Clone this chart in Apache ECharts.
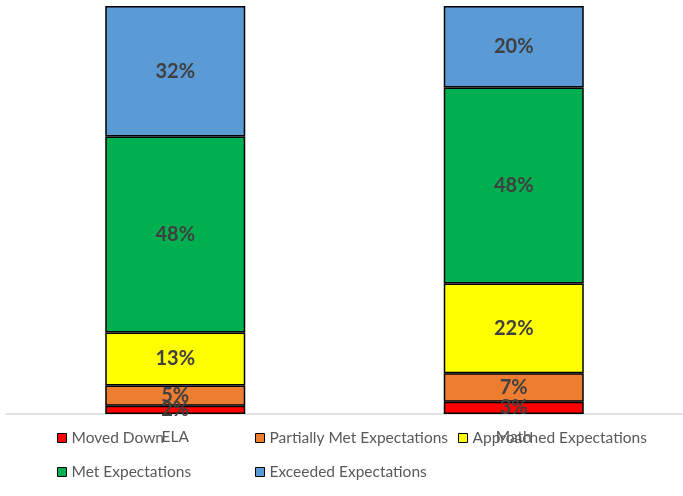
<!DOCTYPE html>
<html><head><meta charset="utf-8">
<script src="https://cdn.jsdelivr.net/npm/echarts@6/dist/echarts.min.js"></script>
<style>html,body{margin:0;padding:0;background:#fff}#c{width:683px;height:496px}</style>
</head><body><div id="c"></div>
<script>
const categories = ['ELA', 'Math'];
const movedDown = [2, 3];
const partiallyMet = [5, 7];
const approached = [13, 22];
const met = [48, 48];
const exceeded = [32, 20];
const seriesNames = ['Moved Down', 'Partially Met Expectations', 'Approached Expectations', 'Met Expectations', 'Exceeded Expectations'];
const seriesData = [movedDown, partiallyMet, approached, met, exceeded];
const colors = ['#FF0000', '#ED7D31', '#FFFF00', '#00B050', '#5B9BD5'];

const chart = echarts.init(document.getElementById('c'), null, {renderer: 'canvas'});
const font = 'Lato, "Open Sans", sans-serif';
const legendBase = {
  orient: 'vertical', top: 425, itemWidth: 9, itemHeight: 9, itemGap: 18,
  icon: 'rect', textStyle: {color: '#595959', fontSize: 15.5, fontFamily: font},
  itemStyle: {borderColor: '#000', borderWidth: 1}
};
chart.setOption({
  animation: false,
  color: colors,
  grid: {left: 6, right: -5, top: 6, bottom: 82, containLabel: false},
  legend: [
    Object.assign({}, legendBase, {left: 52, data: [seriesNames[0], seriesNames[3]]}),
    Object.assign({}, legendBase, {left: 250, data: [seriesNames[1], seriesNames[4]]}),
    Object.assign({}, legendBase, {left: 453, data: [seriesNames[2]]})
  ],
  xAxis: {
    type: 'category', data: categories,
    axisLine: {lineStyle: {color: '#D9D9D9', width: 1.5}},
    axisTick: {show: false},
    axisLabel: {color: '#595959', fontSize: 15.5, fontFamily: font, margin: 15}
  },
  yAxis: {type: 'value', min: 0, max: 100, show: false, splitLine: {show: false}},
  series: seriesNames.map((n, i) => ({
    name: n, type: 'bar', stack: 'total', barWidth: 140,
    data: seriesData[i],
    itemStyle: {color: colors[i], borderColor: '#000', borderWidth: 1.5},
    label: {show: true, position: 'inside', formatter: '{c}%', color: '#404040',
      fontSize: 20, fontWeight: 'bold', fontFamily: font}
  }))
});
</script></body></html>
